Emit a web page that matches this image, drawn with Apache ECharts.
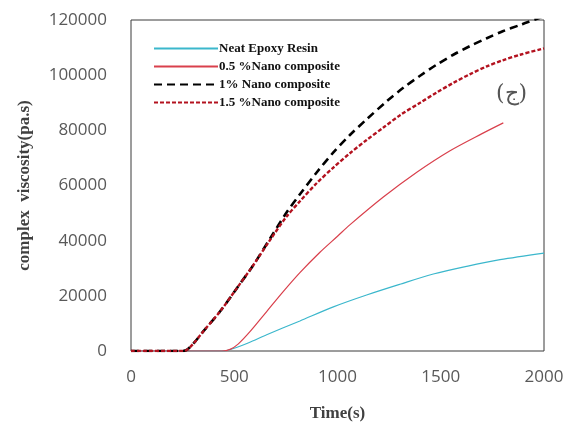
<!DOCTYPE html>
<html>
<head>
<meta charset="utf-8">
<script src="https://cdn.jsdelivr.net/npm/echarts@6/dist/echarts.min.js"></script>
<style>html,body{margin:0;padding:0;background:#fff}#c{width:569px;height:427px}</style>
</head>
<body>
<div id="c"></div>
<script>
const seriesNames = ["Neat Epoxy Resin", "0.5 %Nano composite", "1% Nano composite", "1.5 %Nano composite"];

const neatTime = [0, 445, 500, 570, 657, 818, 980, 1141, 1303, 1464, 1626, 1787, 2000];
const neatVal  = [0, 0, 1000, 3000, 5900, 10900, 16000, 20300, 24200, 27900, 30700, 33100, 35500];

const nano05Time = [0, 440, 480, 520, 576, 657, 738, 818, 915, 1000, 1061, 1222, 1384, 1545, 1700, 1803];
const nano05Val  = [0, 0, 600, 2600, 7000, 14300, 21600, 28400, 35800, 41600, 45800, 55800, 64800, 72600, 78800, 82700];

const nano1Time = [0, 250, 270, 300, 350, 431, 512, 592, 673, 754, 818, 900, 980, 1060, 1141, 1238, 1320, 1400, 1480, 1561, 1640, 1723, 1800, 1884, 1916, 2000];
const nano1Val  = [0, 0, 400, 2500, 7100, 14300, 22700, 31100, 40700, 50300, 56800, 64800, 72000, 78300, 84000, 90500, 95500, 99800, 103800, 107400, 110500, 113400, 115900, 118200, 119100, 121300];

const nano15Time = [0, 250, 270, 300, 350, 431, 512, 592, 673, 754, 818, 900, 980, 1060, 1141, 1222, 1303, 1400, 1480, 1561, 1640, 1723, 1800, 1884, 2000];
const nano15Val  = [0, 0, 400, 2500, 7100, 14300, 22700, 31100, 40200, 48800, 54300, 60900, 66500, 71700, 76500, 81000, 85500, 90000, 93700, 97200, 100300, 103200, 105400, 107400, 109700];

const xTicks = [0, 500, 1000, 1500, 2000];
const yTicks = [0, 20000, 40000, 60000, 80000, 100000, 120000];

const pair = (t, v) => t.map((x, i) => [x, v[i]]);

const chart = echarts.init(document.getElementById('c'));
chart.setOption({
  animation: false,
  backgroundColor: '#fff',
  grid: { left: 131, right: 25, top: 20, bottom: 74, show: true, borderColor: '#3a3a3a', borderWidth: 1, backgroundColor: 'transparent' },
  legend: {
    orient: 'vertical', left: 148, top: 37,
    itemWidth: 64, itemHeight: 13, itemGap: 5,
    itemStyle: { opacity: 0, borderWidth: 0 },
    textStyle: { fontFamily: 'Liberation Serif', fontWeight: 'bold', fontSize: 13, color: '#111', padding: [0,0,0,-4] },
    data: seriesNames
  },
  xAxis: {
    type: 'value', min: xTicks[0], max: xTicks[xTicks.length-1], interval: 500,
    name: 'Time(s)', nameLocation: 'middle', nameGap: 54,
    nameTextStyle: { fontFamily: 'Liberation Serif', fontWeight: 'bold', fontSize: 17, color: '#404040' },
    axisLine: { show: false }, axisTick: { show: false }, splitLine: { show: false },
    axisLabel: { fontFamily: 'Open Sans', fontSize: 17, color: '#595959', margin: 18, formatter: v => String(v) }
  },
  yAxis: {
    type: 'value', min: yTicks[0], max: yTicks[yTicks.length-1], interval: 20000,
    name: 'complex  viscosity(pa.s)', nameLocation: 'middle', nameGap: 98,
    nameTextStyle: { fontFamily: 'Liberation Serif', fontWeight: 'bold', fontSize: 17, color: '#404040' },
    axisLine: { show: false }, axisTick: { show: false }, splitLine: { show: false },
    axisLabel: { fontFamily: 'Open Sans', fontSize: 17, color: '#595959', margin: 24, formatter: v => String(v) }
  },
  graphic: [{
    type: 'text', left: 496, top: 83,
    style: { text: '(ج)', font: '22px "DejaVu Serif"', fill: '#555' }
  }],
  series: [
    { name: seriesNames[0], type: 'line', data: pair(neatTime, neatVal), symbol: 'none',
      smooth: 0.3, clip: true, itemStyle: { color: '#3bb7cc' },
      lineStyle: { color: '#3bb7cc', width: 1.2 } },
    { name: seriesNames[1], type: 'line', data: pair(nano05Time, nano05Val), symbol: 'none',
      smooth: 0.3, clip: true, itemStyle: { color: '#d9404c' },
      lineStyle: { color: '#d9404c', width: 1.2 } },
    { name: seriesNames[2], type: 'line', data: pair(nano1Time, nano1Val), symbol: 'none',
      smooth: 0.3, clip: true, itemStyle: { color: '#000' },
      lineStyle: { color: '#000', width: 2.6, type: [8, 5] } },
    { name: seriesNames[3], type: 'line', data: pair(nano15Time, nano15Val), symbol: 'none',
      smooth: 0.3, clip: true, itemStyle: { color: '#b3121f' },
      lineStyle: { color: '#b3121f', width: 2.4, type: [4, 2] } }
  ]
});
</script>
</body>
</html>
